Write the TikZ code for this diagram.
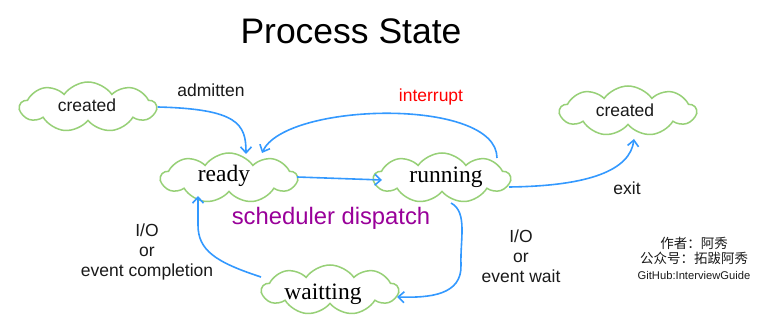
\documentclass[tikz,border=0pt]{standalone}
\usepackage{fontspec}
\setmainfont{Liberation Serif}
\setsansfont{Liberation Sans}
\newfontfamily\cjkfont{Noto Sans CJK SC}
\usetikzlibrary{shapes.symbols,arrows.meta}
\definecolor{cloudgreen}{HTML}{97D077}
\definecolor{arrowblue}{HTML}{3399FF}
\definecolor{txtgray}{HTML}{1A1A1A}
\definecolor{dispatchpurple}{HTML}{990099}
\tikzset{
  statecloud/.style={cloud, cloud puffs=9, cloud puff arc=110, cloud ignores aspect, draw=cloudgreen, line width=1.5pt, fill=white,
    minimum width=136pt, minimum height=50pt, inner sep=0pt},
  serifstate/.style={font=\fontsize{23.5}{26}\selectfont\rmfamily, text=black},
  sansstate/.style={font=\fontsize{17.5}{20}\selectfont\sffamily, text=txtgray},
  lbl/.style={font=\fontsize{17.5}{20}\selectfont\sffamily, text=txtgray, align=center, inner sep=0pt},
  flow/.style={draw=arrowblue, line width=1.6pt, -{Straight Barb[length=6pt,width=11pt,line width=1.6pt]}},
}
\begin{document}
\begin{tikzpicture}[x=1pt,y=-1pt]
\useasboundingbox[fill=white] (0,0) rectangle (772,328);

% title
\node[font=\fontsize{35.5}{40}\selectfont\sffamily, text=black, inner sep=0pt] (title) at (351,31) {Process State};

% clouds
\node[statecloud] (c1) at (88,107) {};
\node[sansstate] at (87,105) {created};
\node[statecloud] (ready) at (229,178) {};
\node[serifstate] at (224,176) {ready};
\node[statecloud] (run) at (442,178) {};
\node[serifstate] at (446,177) {running};
\node[statecloud] (c2) at (628,111) {};
\node[sansstate] at (625,110) {created};
\node[statecloud] (wait) at (330,290) {};
\node[serifstate] at (323,294) {waitting};

% named points
\coordinate (admitEnd) at (246,154);
\coordinate (intStart) at (497,158);
\coordinate (intEnd) at (262,153);
\coordinate (exitStart) at (509,187);
\coordinate (exitEnd) at (634,139);
\coordinate (rdStart) at (297,177);
\coordinate (rdEnd) at (382,180);
\coordinate (wStart) at (451,203);
\coordinate (wEnd) at (397,297);
\coordinate (ioStart) at (261,277);
\coordinate (ioEnd) at (198,196);

% connectors
\draw[flow] ([yshift=0pt]c1.east) .. controls +(80,2) and +(0,-30) .. (admitEnd);
\draw[flow] (intStart) .. controls (497,97) and (285,102) .. (intEnd);
\draw[flow] (rdStart) -- (rdEnd);
\draw[flow] (exitStart) .. controls (590,186) and (630,170) .. (exitEnd);
\draw[flow] (wStart) .. controls (468,212) and (460,240) .. (461,265) .. controls (462,295) and (430,298) .. (wEnd);
\draw[flow] (ioStart) .. controls (215,262) and (198,250) .. (198,225) -- (ioEnd);

% labels
\node[lbl] (admit) at (211,90) {admitten};
\node[lbl, text=red] (intr) at (431,97) {interrupt};
\node[lbl, font=\fontsize{23.8}{26}\selectfont\sffamily, text=dispatchpurple] (sched) at (331,218) {scheduler dispatch};
\node[lbl] (exitl) at (627,188) {exit};
\node[lbl, font=\fontsize{17.5}{20}\selectfont\sffamily] (io1) at (147,252) {I/O\\or\\event completion};
\node[lbl, font=\fontsize{17.5}{20}\selectfont\sffamily] (io2) at (521,256) {I/O\\or\\event wait};
\node[lbl, font=\fontsize{11.2}{15.5}\selectfont\sffamily] (author) at (694,258) {{\cjkfont\fontsize{13.5}{15.5}\selectfont 作者：阿秀}\\{\cjkfont\fontsize{13.5}{15.5}\selectfont 公众号：拓跋阿秀}\\GitHub:InterviewGuide};
\end{tikzpicture}
\end{document}
